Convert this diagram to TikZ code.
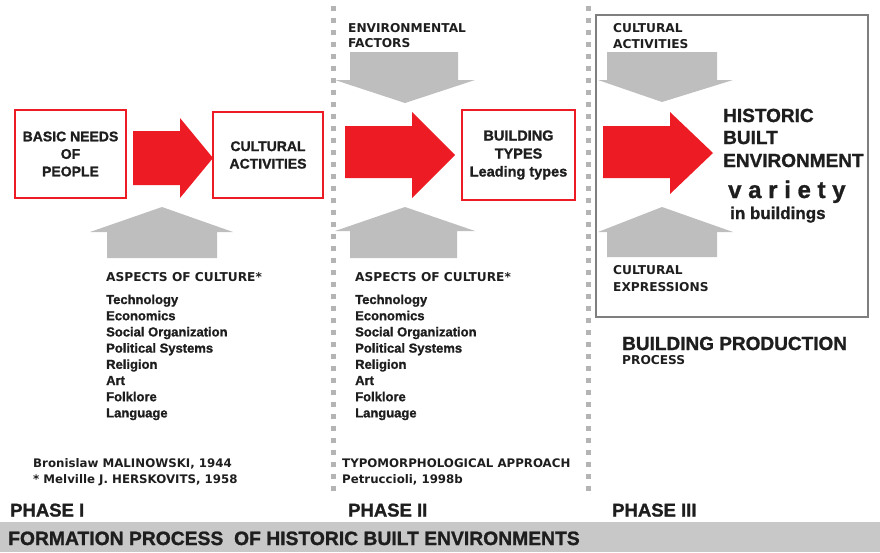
\documentclass[tikz,border=0pt]{standalone}
\usepackage{fontspec}
\setmainfont{Liberation Sans}
\newfontfamily\widefont{DejaVu Sans}
\newfontfamily\heavyfont{Liberation Sans Bold}[FakeBold=1.2]
\definecolor{boxred}{HTML}{ED1C24}
\definecolor{ink}{HTML}{1E1E1E}
\definecolor{arrowgray}{HTML}{BEBEBE}
\definecolor{dotgray}{HTML}{B4B4B4}
\definecolor{bandgray}{HTML}{C8C8C8}
\definecolor{framegray}{HTML}{7F7F7F}

\tikzset{
  redbox/.style = {draw=boxred, line width=2.5pt, align=center, inner sep=0pt, text=ink},
  redarrow/.style = {fill=boxred},
  grayarrow/.style = {fill=arrowgray},
  dotsep/.style = {draw=dotgray, line width=5pt, dash pattern=on 5pt off 7pt},
  txt/.style = {anchor=base west, inner sep=0pt, text=ink},
  widetxt/.style = {txt, font=\widefont\bfseries\fontsize{12.2}{14}\selectfont},
  reftxt/.style = {txt, font=\widefont\bfseries\fontsize{11.8}{14}\selectfont},
  listtxt/.style = {txt, font=\heavyfont\fontsize{13}{15}\selectfont},
  phasetxt/.style = {txt, font=\heavyfont\fontsize{18.5}{20}\selectfont},
  bigtxt/.style = {txt, font=\heavyfont\fontsize{19}{22}\selectfont},
}

\begin{document}
\begin{tikzpicture}[x=1pt, y=-1pt]
\useasboundingbox (0,0) rectangle (880,552);

% phase separators
\coordinate (sepAtop) at (333,6);
\coordinate (sepAbot) at (333,497);
\coordinate (sepBtop) at (588,6);
\coordinate (sepBbot) at (588,497);
\draw[dotsep] (sepAtop) -- (sepAbot);
\draw[dotsep] (sepBtop) -- (sepBbot);

%%% phase I
\node[redbox, minimum width=111pt, minimum height=88pt,
  font=\heavyfont\fontsize{14}{17.5}\selectfont] (needs) at (70.5,154)
  {BASIC NEEDS\\OF\\PEOPLE};
\node[redbox, minimum width=110pt, minimum height=86pt,
  font=\heavyfont\fontsize{14}{17.5}\selectfont] (activities) at (268,155)
  {CULTURAL\\ACTIVITIES};
\fill[redarrow] (133,131) -- (180,131) -- (180,118) -- (213,158)
  -- (180,198) -- (180,185) -- (133,185) -- cycle;
\fill[grayarrow] (107,258) -- (107,232) -- (90,232) -- (162,207)
  -- (233,232) -- (217,232) -- (217,258) -- cycle;

\node[widetxt] (aspectsA) at (106,281) {ASPECTS OF CULTURE*};
\foreach \aspect [count=\i from 0] in {Technology, Economics,
  Social Organization, Political Systems, Religion, Art, Folklore, Language}
  \node[listtxt] (aspectA\i) at (106,304+16.2*\i) {\aspect};

\node[reftxt] (refA) at (33,467) {Bronislaw MALINOWSKI, 1944};
\node[reftxt] (refB) at (33,483) {* Melville J. HERSKOVITS, 1958};
\node[phasetxt] (phaseA) at (10,516.5) {PHASE I};

%%% phase II
\node[widetxt] (envA) at (348,32) {ENVIRONMENTAL};
\node[widetxt] (envB) at (348,47.5) {FACTORS};
\fill[grayarrow] (350,52) -- (458,52) -- (458,80) -- (475,80) -- (405,103)
  -- (335,80) -- (350,80) -- cycle;
\fill[redarrow] (345,126) -- (412,126) -- (412,112) -- (455,155)
  -- (412,198) -- (412,178) -- (345,178) -- cycle;
\node[redbox, minimum width=113pt, minimum height=90pt,
  font=\heavyfont\fontsize{14.5}{18}\selectfont] (types) at (518.5,155)
  {BUILDING\\TYPES\\Leading types};
\fill[grayarrow] (350,258) -- (350,231) -- (335,231) -- (405,207)
  -- (475,231) -- (457,231) -- (457,258) -- cycle;

\node[widetxt] (aspectsB) at (355,281) {ASPECTS OF CULTURE*};
\foreach \aspect [count=\i from 0] in {Technology, Economics,
  Social Organization, Political Systems, Religion, Art, Folklore, Language}
  \node[listtxt] (aspectB\i) at (355,304+16.2*\i) {\aspect};

\node[reftxt] (refC) at (342,467) {TYPOMORPHOLOGICAL APPROACH};
\node[reftxt] (refD) at (342,483) {Petruccioli, 1998b};
\node[phasetxt] (phaseB) at (348,516.5) {PHASE II};

%%% phase III
\node[draw=framegray, line width=1.6pt, minimum width=272pt,
  minimum height=302pt, inner sep=0pt] (frame) at (732,166) {};
\node[widetxt] (cultA) at (613,32) {CULTURAL};
\node[widetxt] (cultB) at (613,48) {ACTIVITIES};
\fill[grayarrow] (607,52) -- (717,52) -- (717,80) -- (733,80) -- (662,102)
  -- (598,80) -- (607,80) -- cycle;
\fill[redarrow] (603,126) -- (670,126) -- (670,112) -- (713,153)
  -- (670,194) -- (670,178) -- (603,178) -- cycle;
\fill[grayarrow] (607,257) -- (607,232) -- (598,232) -- (662,207)
  -- (733,232) -- (717,232) -- (717,257) -- cycle;

\node[bigtxt] (histA) at (723,122) {HISTORIC};
\node[bigtxt] (histB) at (723,144) {BUILT};
\node[bigtxt] (histC) at (723,167) {ENVIRONMENT};
\node[txt, font=\heavyfont\fontsize{24}{26}\selectfont] (variety) at (728,198) {v a r i e t y};
\node[txt, font=\heavyfont\fontsize{17}{19}\selectfont] (buildings) at (730,219) {in buildings};

\node[widetxt] (exprA) at (613,274) {CULTURAL};
\node[widetxt] (exprB) at (613,291) {EXPRESSIONS};

\node[bigtxt] (prodA) at (622,350) {BUILDING PRODUCTION};
\node[widetxt] (prodB) at (622,364.5) {PROCESS};
\node[phasetxt] (phaseC) at (612,516.5) {PHASE III};

%%% bottom band
\fill[bandgray] (0,522) rectangle (880,552);
\node[txt, font=\heavyfont\fontsize{19.3}{21}\selectfont] (title) at (8,545)
  {FORMATION PROCESS\ \ OF HISTORIC BUILT ENVIRONMENTS};
\end{tikzpicture}
\end{document}
